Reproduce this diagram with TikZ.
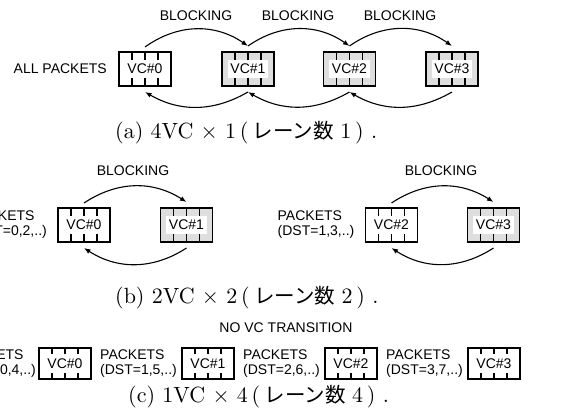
\documentclass[tikz,border=0pt]{standalone}
\usepackage{fontspec}
\usetikzlibrary{arrows.meta,calc}
\newfontfamily\labelfont{Liberation Sans}
\newfontfamily\jpfont{Noto Sans CJK JP}
\newfontfamily\capfont{lmroman10-regular.otf}
\definecolor{slotgray}{HTML}{DEDEDE}

\tikzset{
  vcframe/.style={draw=none, minimum width=52pt, inner sep=0pt, outer sep=0pt},
  vcborder/.style={line width=1.15pt},
  divider/.style={line width=1.1pt},
  vctag/.style={fill=white, inner xsep=2.5pt, inner ysep=4pt, text height=10.2pt, text depth=0.5pt,
    font=\labelfont\fontsize{14}{15}\selectfont},
  txt/.style={inner sep=0pt, font=\labelfont\fontsize{14}{15}\selectfont},
  pkts/.style={txt, align=left},
  flow/.style={line width=1.1pt, -{Latex[length=6.5pt,width=5pt]}},
  caption/.style={inner sep=0pt, anchor=base west, font=\capfont\fontsize{22}{24}\selectfont}
}

% one virtual channel buffer: frame, four slots, white name tag
\newcommand{\vcunit}[5]{%
  \node[vcframe, fill=#3, minimum height=#5] (#1) at (#2) {};
  \foreach \f in {0.25,0.5,0.75}
    \draw[divider] ($(#1.north west)!\f!(#1.north east)$) -- ($(#1.south west)!\f!(#1.south east)$);
  \node[vctag] (#1-tag) at (#1) {#4};
  \draw[vcborder] (#1.north west) rectangle (#1.south east);
}
% caption text: "(x) nVC x m (lanes m)."
\newcommand{\laneset}[3]{(#1) #2VC × #3\,(\hspace{4.5pt}{\jpfont\fontsize{20.5}{24}\selectfont レーン数}\hspace{6.5pt}#3\,)\hspace{7.5pt}.}

\begin{document}
\begin{tikzpicture}[x=1pt,y=1pt]
\useasboundingbox (0,0) rectangle (566,-412);

% ---------------- (a) 4VC x 1 ----------------
\vcunit{a0}{145,-69}{white}{VC\#0}{34pt}
\vcunit{a1}{248,-69}{slotgray}{VC\#1}{34pt}
\vcunit{a2}{349.5,-69}{slotgray}{VC\#2}{34pt}
\vcunit{a3}{452,-69}{slotgray}{VC\#3}{34pt}
\node[txt, anchor=east] (alla) at ([xshift=-12pt]a0.west) {ALL PACKETS};

\node[txt] (blk-a1) at (196,-16) {BLOCKING};
\node[txt] (blk-a2) at (298,-16) {BLOCKING};
\node[txt] (blk-a3) at (400,-16) {BLOCKING};

\draw[flow] ([yshift=5pt]a0.north) to[bend left=35] ([yshift=6pt]a1.north);
\draw[flow] ([yshift=6pt]a1.north) to[bend left=35] ([yshift=6pt]a2.north);
\draw[flow] ([yshift=6pt]a2.north) to[bend left=35] ([yshift=6pt]a3.north);
\draw[flow] ([yshift=-6pt]a1.south) to[bend left=30] ([yshift=-6pt]a0.south);
\draw[flow] ([yshift=-6pt]a2.south) to[bend left=30] ([yshift=-6pt]a1.south);
\draw[flow] ([yshift=-6pt]a3.south) to[bend left=30] ([yshift=-6pt]a2.south);

\node[caption] (cap-a) at (115,-139) {\laneset{a}{4}{1}};

% ---------------- (b) 2VC x 2 ----------------
\vcunit{b0}{84,-225}{white}{VC\#0}{34pt}
\vcunit{b1}{186.5,-225}{slotgray}{VC\#1}{34pt}
\vcunit{b2}{391.5,-225}{white}{VC\#2}{34pt}
\vcunit{b3}{493.5,-225}{slotgray}{VC\#3}{34pt}
\node[pkts, anchor=east] (pk-b0) at ([xshift=-11pt]b0.west) {PACKETS\\(DST=0,2,..)};
\node[pkts, anchor=east] (pk-b2) at ([xshift=-11pt]b2.west) {PACKETS\\(DST=1,3,..)};

\node[txt] (blk-b1) at (133,-171) {BLOCKING};
\node[txt] (blk-b2) at (441,-171) {BLOCKING};

\draw[flow] ([yshift=5pt]b0.north) to[bend left=33] ([yshift=6pt]b1.north);
\draw[flow] ([yshift=-6pt]b1.south) to[bend left=33] ([yshift=-6pt]b0.south);
\draw[flow] ([yshift=5pt]b2.north) to[bend left=33] ([yshift=6pt]b3.north);
\draw[flow] ([yshift=-6pt]b3.south) to[bend left=33] ([yshift=-6pt]b2.south);

\node[caption] (cap-b) at (115,-303) {\laneset{b}{2}{2}};

% ---------------- (c) 1VC x 4 ----------------
\node[txt] (novc) at (286,-328) {NO VC TRANSITION};
\vcunit{c0}{65,-363.5}{white}{VC\#0}{31pt}
\vcunit{c1}{208,-363.5}{white}{VC\#1}{31pt}
\vcunit{c2}{351,-363.5}{white}{VC\#2}{31pt}
\vcunit{c3}{494,-363.5}{white}{VC\#3}{31pt}
\node[pkts, anchor=east] (pk-c0) at ([xshift=-3pt]c0.west) {PACKETS\\(DST=0,4,..)};
\node[pkts, anchor=west] (pk-c1) at ([xshift=9pt]c0.east) {PACKETS\\(DST=1,5,..)};
\node[pkts, anchor=west] (pk-c2) at ([xshift=9pt]c1.east) {PACKETS\\(DST=2,6,..)};
\node[pkts, anchor=west] (pk-c3) at ([xshift=9pt]c2.east) {PACKETS\\(DST=3,7,..)};

\node[caption] (cap-c) at (128,-402) {\laneset{c}{1}{4}};
\end{tikzpicture}
\end{document}
